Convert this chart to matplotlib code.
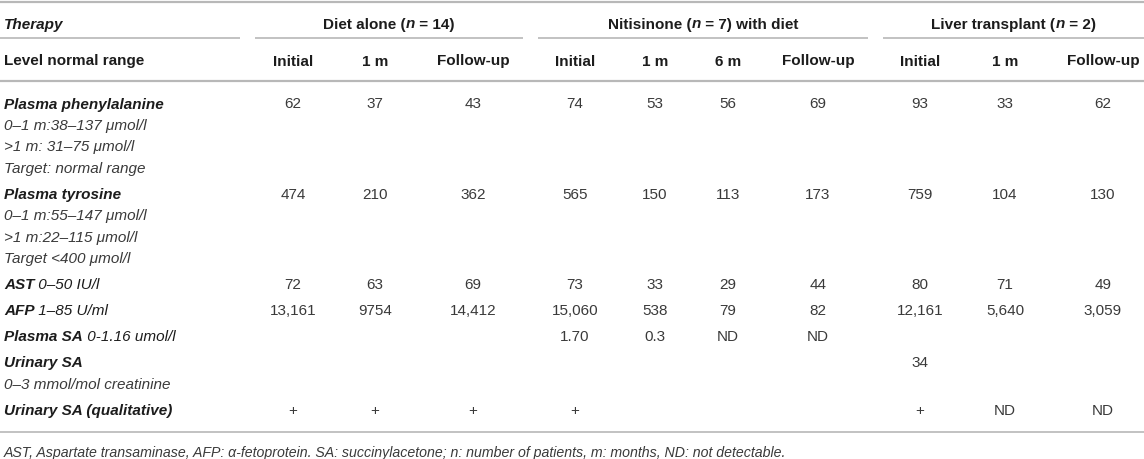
import matplotlib
matplotlib.use('Agg')
import matplotlib.pyplot as plt

# table content
groups = ['Diet alone', 'Nitisinone', 'Liver transplant']
group_n = ['14', '7', '2']
group_tail = ['', ' with diet', '']
col_labels = ['Initial', '1 m', 'Follow-up', 'Initial', '1 m', '6 m', 'Follow-up', 'Initial', '1 m', 'Follow-up']

row_names = ['Plasma phenylalanine', 'Plasma tyrosine', 'AST', 'AFP', 'Plasma SA', 'Urinary SA',
             'Urinary SA (qualitative)']
row_ranges = [
    ['0–1 m:38–137 μmol/l', '>1 m: 31–75 μmol/l', 'Target: normal range'],
    ['0–1 m:55–147 μmol/l', '>1 m:22–115 μmol/l', 'Target <400 μmol/l'],
    ['0–50 IU/l'],
    ['1–85 U/ml'],
    ['0-1.16 umol/l'],
    ['0–3 mmol/mol creatinine'],
    [],
]
range_inline = [False, False, True, True, True, False, False]

phe = ['62', '37', '43', '74', '53', '56', '69', '93', '33', '62']
tyr = ['474', '210', '362', '565', '150', '113', '173', '759', '104', '130']
ast = ['72', '63', '69', '73', '33', '29', '44', '80', '71', '49']
afp = ['13,161', '9754', '14,412', '15,060', '538', '79', '82', '12,161', '5,640', '3,059']
plasma_sa = ['', '', '', '1.70', '0.3', 'ND', 'ND', '', '', '']
urinary_sa = ['', '', '', '', '', '', '', '34', '', '']
urinary_qual = ['+', '+', '+', '+', '', '', '', '+', 'ND', 'ND']
values = [phe, tyr, ast, afp, plasma_sa, urinary_sa, urinary_qual]

footnote = ('AST, Aspartate transaminase, AFP: α-fetoprotein. SA: succinylacetone; n: number of patients, '
            'm: months, ND: not detectable.')

FONT = 'Liberation Sans'
SIZE = 11
DARK = '#1c1c1c'
GREY = '#3a3a3a'
LINE = '#b8b8b8'

fig = plt.figure(figsize=(11.44, 4.6), dpi=100)
ax = fig.add_axes([0, 0, 1, 1])
ax.set_xlim(0, 1144)
ax.set_ylim(460, 0)
ax.axis('off')
renderer = fig.canvas.get_renderer()


def seg_width(s, weight, style):
    # measure with bars around so spaces count
    t1 = ax.text(0, 0, '|' + s + '|', fontsize=SIZE, family=FONT, fontweight=weight, fontstyle=style)
    t2 = ax.text(0, 0, '||', fontsize=SIZE, family=FONT, fontweight=weight, fontstyle=style)
    w = t1.get_window_extent(renderer).width - t2.get_window_extent(renderer).width
    t1.remove()
    t2.remove()
    return w


def rich(x, y, parts, ha='left', color=DARK):
    widths = [seg_width(s, w, st) for s, w, st in parts]
    start = x - sum(widths) / 2 if ha == 'center' else x
    for (s, w, st), wd in zip(parts, widths):
        ax.text(start, y, s, fontsize=SIZE, family=FONT, fontweight=w, fontstyle=st,
                color=color, ha='left', va='center_baseline')
        start += wd


# column geometry
col_x = [293, 375, 473, 575, 655, 728, 818, 920, 1005, 1103]
group_spans = [(255, 523), (538, 868), (883, 1144)]

# rules
ax.plot([0, 1144], [3, 3], color=LINE, lw=1.6, solid_capstyle='butt')
ax.plot([0, 240], [39, 39], color=LINE, lw=1.2, solid_capstyle='butt')
for x0, x1 in group_spans:
    ax.plot([x0, x1], [39, 39], color=LINE, lw=1.2, solid_capstyle='butt')
ax.plot([0, 1144], [82, 82], color=LINE, lw=1.6, solid_capstyle='butt')
ax.plot([0, 1144], [433, 433], color=LINE, lw=1.2, solid_capstyle='butt')

# header rows
rich(4, 23, [('Therapy', 'bold', 'italic')])
for (x0, x1), g, n, tail in zip(group_spans, groups, group_n, group_tail):
    rich((x0 + x1) / 2, 23, [(g + ' (', 'bold', 'normal'), ('n', 'bold', 'italic'),
                             (' = ' + n + ')' + tail, 'bold', 'normal')], ha='center')
rich(4, 60, [('Level normal range', 'bold', 'normal')])
for x, lab in zip(col_x, col_labels):
    ax.text(x, 60, lab, fontsize=SIZE, family=FONT, fontweight='bold', color=DARK,
            ha='center', va='center_baseline')

# body rows
y = 103
for name, rng, inline, vals in zip(row_names, row_ranges, range_inline, values):
    if inline:
        rich(4, y, [(name, 'bold', 'italic'), (' ' + rng[0], 'normal', 'italic')])
        extra = []
    else:
        rich(4, y, [(name, 'bold', 'italic')])
        extra = rng
    for x, v in zip(col_x, vals):
        if v:
            ax.text(x, y, v, fontsize=SIZE, family=FONT, color=GREY, ha='center', va='center_baseline')
    for line in extra:
        y += 21.5
        ax.text(4, y, line, fontsize=SIZE, family=FONT, fontstyle='italic', color=GREY,
                ha='left', va='center_baseline')
    y += 26

ax.text(4, 452, footnote, fontsize=10.2, family=FONT, fontstyle='italic', color=GREY,
        ha='left', va='center_baseline')

fig.savefig('out.png', dpi=100)
